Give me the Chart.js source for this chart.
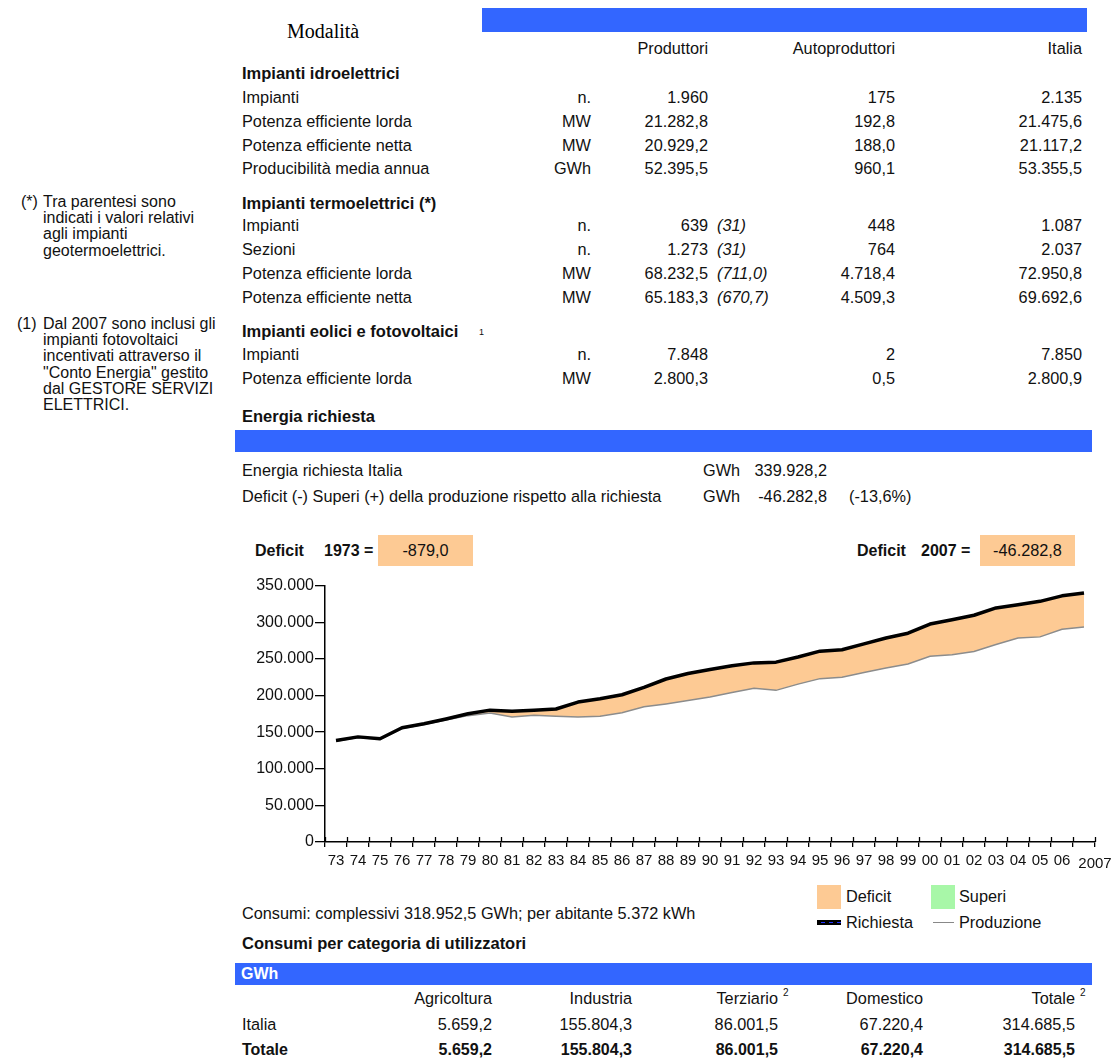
<!DOCTYPE html>
<html lang="it">
<head>
<meta charset="utf-8">
<title>Energia elettrica Italia 2007</title>
<script src="https://cdn.jsdelivr.net/npm/chart.js@4.4.1/dist/chart.umd.min.js"></script>
<style>
  body { margin: 0; background: #fff; }
  #page { position: relative; width: 1119px; height: 1062px; overflow: hidden;
          font-family: "Liberation Sans", Arial, sans-serif; font-size: 16.3px; color: #111; }
  .t { position: absolute; white-space: nowrap; line-height: 20px; }
  .b { font-weight: bold; font-size: 16.5px; }
  .bv { font-weight: bold; font-size: 16px; }
  .i { font-style: italic; }
  .bar { position: absolute; background: #3366ff; }
  .note { position: absolute; font-size: 16px; line-height: 16.2px; white-space: nowrap; }
  .sup { position: absolute; left: 100%; margin-left: 5px; top: -5px; font-size: 10px; }
  .box { position: absolute; background: #fdca94; text-align: center; line-height: 31px; }
  #chartBox { position: absolute; left: 230px; top: 575px; width: 885px; height: 300px; }
</style>
</head>
<body>
<div id="page">

  <div class="t" style="left:287px;top:21px;font-family:'Liberation Serif','Times New Roman',serif;font-size:20px;color:#000">Modalità</div>
  <div class="bar" style="left:482px;top:8px;width:605px;height:24px"></div>

  <div class="t" style="right:411px;top:38px">Produttori</div>
  <div class="t" style="right:224px;top:38px">Autoproduttori</div>
  <div class="t" style="right:37px;top:38px">Italia</div>

  <div class="t b" style="left:242px;top:63px">Impianti idroelettrici</div>
  <div class="t" style="left:242px;top:87px">Impianti</div>
  <div class="t" style="right:528px;top:87px">n.</div>
  <div class="t" style="right:411px;top:87px">1.960</div>
  <div class="t" style="right:224px;top:87px">175</div>
  <div class="t" style="right:37px;top:87px">2.135</div>
  <div class="t" style="left:242px;top:111px">Potenza efficiente lorda</div>
  <div class="t" style="right:528px;top:111px">MW</div>
  <div class="t" style="right:411px;top:111px">21.282,8</div>
  <div class="t" style="right:224px;top:111px">192,8</div>
  <div class="t" style="right:37px;top:111px">21.475,6</div>
  <div class="t" style="left:242px;top:135px">Potenza efficiente netta</div>
  <div class="t" style="right:528px;top:135px">MW</div>
  <div class="t" style="right:411px;top:135px">20.929,2</div>
  <div class="t" style="right:224px;top:135px">188,0</div>
  <div class="t" style="right:37px;top:135px">21.117,2</div>
  <div class="t" style="left:242px;top:158px">Producibilità media annua</div>
  <div class="t" style="right:528px;top:158px">GWh</div>
  <div class="t" style="right:411px;top:158px">52.395,5</div>
  <div class="t" style="right:224px;top:158px">960,1</div>
  <div class="t" style="right:37px;top:158px">53.355,5</div>

  <div class="t b" style="left:242px;top:193px">Impianti termoelettrici (*)</div>
  <div class="t" style="left:242px;top:215px">Impianti</div>
  <div class="t" style="right:528px;top:215px">n.</div>
  <div class="t" style="right:411px;top:215px">639</div>
  <div class="t i" style="left:717px;top:215px">(31)</div>
  <div class="t" style="right:224px;top:215px">448</div>
  <div class="t" style="right:37px;top:215px">1.087</div>
  <div class="t" style="left:242px;top:239px">Sezioni</div>
  <div class="t" style="right:528px;top:239px">n.</div>
  <div class="t" style="right:411px;top:239px">1.273</div>
  <div class="t i" style="left:717px;top:239px">(31)</div>
  <div class="t" style="right:224px;top:239px">764</div>
  <div class="t" style="right:37px;top:239px">2.037</div>
  <div class="t" style="left:242px;top:263px">Potenza efficiente lorda</div>
  <div class="t" style="right:528px;top:263px">MW</div>
  <div class="t" style="right:411px;top:263px">68.232,5</div>
  <div class="t i" style="left:717px;top:263px">(711,0)</div>
  <div class="t" style="right:224px;top:263px">4.718,4</div>
  <div class="t" style="right:37px;top:263px">72.950,8</div>
  <div class="t" style="left:242px;top:287px">Potenza efficiente netta</div>
  <div class="t" style="right:528px;top:287px">MW</div>
  <div class="t" style="right:411px;top:287px">65.183,3</div>
  <div class="t i" style="left:717px;top:287px">(670,7)</div>
  <div class="t" style="right:224px;top:287px">4.509,3</div>
  <div class="t" style="right:37px;top:287px">69.692,6</div>

  <div class="t b" style="left:242px;top:321px">Impianti eolici e fotovoltaici</div>
  <div class="t" style="left:479px;top:322px;font-size:9px">1</div>
  <div class="t" style="left:242px;top:344px">Impianti</div>
  <div class="t" style="right:528px;top:344px">n.</div>
  <div class="t" style="right:411px;top:344px">7.848</div>
  <div class="t" style="right:224px;top:344px">2</div>
  <div class="t" style="right:37px;top:344px">7.850</div>
  <div class="t" style="left:242px;top:368px">Potenza efficiente lorda</div>
  <div class="t" style="right:528px;top:368px">MW</div>
  <div class="t" style="right:411px;top:368px">2.800,3</div>
  <div class="t" style="right:224px;top:368px">0,5</div>
  <div class="t" style="right:37px;top:368px">2.800,9</div>

  <div class="t b" style="left:242px;top:406px">Energia richiesta</div>
  <div class="bar" style="left:235px;top:430px;width:857px;height:22px"></div>
  <div class="t" style="left:242px;top:460px">Energia richiesta Italia</div>
  <div class="t" style="left:703px;top:460px">GWh</div>
  <div class="t" style="right:292px;top:460px">339.928,2</div>
  <div class="t" style="left:242px;top:486px">Deficit (-) Superi (+) della produzione rispetto alla richiesta</div>
  <div class="t" style="left:703px;top:486px">GWh</div>
  <div class="t" style="right:292px;top:486px">-46.282,8</div>
  <div class="t" style="left:849px;top:486px">(-13,6%)</div>

  <div class="note" style="left:21px;top:194px">(*)</div>
  <div class="note" style="left:43px;top:194px">Tra parentesi sono<br>indicati i valori relativi<br>agli impianti<br>geotermoelettrici.</div>
  <div class="note" style="left:17px;top:316px">(1)</div>
  <div class="note" style="left:43px;top:316px">Dal 2007 sono inclusi gli<br>impianti fotovoltaici<br>incentivati attraverso il<br>"Conto Energia" gestito<br>dal GESTORE SERVIZI<br>ELETTRICI.</div>

  <div class="t bv" style="left:255px;top:541px">Deficit</div>
  <div class="t bv" style="left:324px;top:541px">1973 =</div>
  <div class="box" style="left:378px;top:535px;width:95px;height:31px">-879,0</div>
  <div class="t bv" style="left:857px;top:541px">Deficit</div>
  <div class="t bv" style="left:921px;top:541px">2007 =</div>
  <div class="box" style="left:980px;top:535px;width:95px;height:31px">-46.282,8</div>

  <div id="chartBox"><canvas id="deficitChart" width="885" height="300"></canvas></div>

  <div style="position:absolute;left:817px;top:885px;width:24px;height:24px;background:#fdca94"></div>
  <div class="t" style="left:846px;top:886px">Deficit</div>
  <div style="position:absolute;left:931px;top:885px;width:24px;height:24px;background:#a8f7a8"></div>
  <div class="t" style="left:959px;top:886px">Superi</div>
  <div style="position:absolute;left:817px;top:920px;width:24px;height:5px;background:#000">
    <div style="margin-top:2px;height:1px;background:repeating-linear-gradient(90deg,#000 0 4px,#2233ff 4px 8px)"></div>
  </div>
  <div class="t" style="left:846px;top:912px">Richiesta</div>
  <div style="position:absolute;left:933px;top:922px;width:21px;height:1px;background:#888"></div>
  <div class="t" style="left:959px;top:912px">Produzione</div>

  <div class="t" style="left:242px;top:903px">Consumi: complessivi 318.952,5 GWh; per abitante 5.372 kWh</div>
  <div class="t b" style="left:242px;top:933px">Consumi per categoria di utilizzatori</div>
  <div class="bar" style="left:235px;top:963px;width:857px;height:22px"></div>
  <div class="t bv" style="left:241px;top:964px;color:#fff">GWh</div>

  <div class="t" style="right:627px;top:988px">Agricoltura</div>
  <div class="t" style="right:487px;top:988px">Industria</div>
  <div class="t" style="right:341px;top:988px">Terziario<span class="sup">2</span></div>
  <div class="t" style="right:196px;top:988px">Domestico</div>
  <div class="t" style="right:44px;top:988px">Totale<span class="sup">2</span></div>

  <div class="t" style="left:242px;top:1014px">Italia</div>
  <div class="t" style="right:627px;top:1014px">5.659,2</div>
  <div class="t" style="right:487px;top:1014px">155.804,3</div>
  <div class="t" style="right:341px;top:1014px">86.001,5</div>
  <div class="t" style="right:196px;top:1014px">67.220,4</div>
  <div class="t" style="right:44px;top:1014px">314.685,5</div>

  <div class="t bv" style="left:242px;top:1040px">Totale</div>
  <div class="t bv" style="right:627px;top:1040px">5.659,2</div>
  <div class="t bv" style="right:487px;top:1040px">155.804,3</div>
  <div class="t bv" style="right:341px;top:1040px">86.001,5</div>
  <div class="t bv" style="right:196px;top:1040px">67.220,4</div>
  <div class="t bv" style="right:44px;top:1040px">314.685,5</div>
</div>

<script>
// anni 1973-2007, GWh
const years = ['73','74','75','76','77','78','79','80','81','82','83','84','85','86','87','88','89',
               '90','91','92','93','94','95','96','97','98','99','00','01','02','03','04','05','06','2007'];

const richiesta = [138500, 143500, 141000, 156000, 161500, 168000, 175000, 180000, 178500, 180000,
                   181500, 191000, 195500, 201000, 211000, 222500, 230000, 235500, 240500, 244500,
                   245500, 252500, 260500, 262500, 270500, 278500, 285000, 297500, 303500, 309500,
                   319500, 324000, 328500, 336000, 339928];

const produzione = [137600, 142700, 140300, 155000, 160500, 166500, 172500, 176000, 170500, 173000,
                    171800, 170500, 171500, 176500, 184500, 188500, 193000, 198000, 204000, 210000,
                    207000, 215500, 223000, 225000, 231500, 237500, 243000, 253500, 255500, 260000,
                    269500, 278500, 280000, 290500, 293645];

const yTicks = [0, 50000, 100000, 150000, 200000, 250000, 300000, 350000];

const deficitColor = '#fdca94';
const superiColor = '#a8f7a8';

function fmt(v) {
    return String(v).replace(/\B(?=(\d{3})+(?!\d))/g, '.');
}

// tacche che attraversano l'asse x e ultima etichetta sulla tacca finale
const axisTicks = {
    id: 'axisTicks',
    afterDraw(chart) {
        const xs = chart.scales.x;
        const ctx = chart.ctx;
        const step = xs.getPixelForValue(1) - xs.getPixelForValue(0);
        const first = xs.getPixelForValue(0) - step / 2;
        ctx.save();
        ctx.strokeStyle = '#000';
        ctx.lineWidth = 1.3;
        for (let i = 0; i <= years.length; i++) {
            const px = Math.round(first + i * step) + 0.5;
            ctx.beginPath();
            ctx.moveTo(px, xs.top - 5);
            ctx.lineTo(px, xs.top);
            ctx.stroke();
        }
        ctx.font = '15px "Liberation Sans", Arial, sans-serif';
        ctx.fillStyle = '#111';
        ctx.textAlign = 'center';
        ctx.textBaseline = 'top';
        ctx.fillText(years[years.length - 1], xs.right, xs.top + 14);
        ctx.restore();
    }
};

Chart.defaults.font.family = '"Liberation Sans", Arial, sans-serif';
Chart.defaults.color = '#111';

new Chart(document.getElementById('deficitChart'), {
    type: 'line',
    data: {
        labels: years,
        datasets: [
            {
                label: 'Produzione',
                data: produzione,
                borderColor: '#8c8c8c',
                borderWidth: 1.5,
                pointRadius: 0,
                tension: 0,
                fill: false,
                order: 1
            },
            {
                label: 'Richiesta',
                data: richiesta,
                borderColor: '#000',
                borderWidth: 3.5,
                pointRadius: 0,
                tension: 0,
                borderJoinStyle: 'round',
                fill: { target: 0, above: deficitColor, below: superiColor },
                order: 0
            }
        ]
    },
    options: {
        responsive: false,
        animation: false,
        devicePixelRatio: 1,
        layout: { padding: { top: 8, right: 20, left: 0, bottom: 0 } },
        plugins: {
            legend: { display: false },
            tooltip: { enabled: false },
            filler: { drawTime: 'beforeDatasetsDraw' }
        },
        scales: {
            x: {
                type: 'category',
                offset: true,
                grid: { offset: true, drawOnChartArea: false, color: '#000', lineWidth: 1.3, tickLength: 5 },
                border: { color: '#000', width: 1.5 },
                ticks: {
                    autoSkip: false,
                    maxRotation: 0,
                    padding: 5,
                    font: { size: 15 },
                    callback: (v, i) => (i === years.length - 1 ? '' : years[i])
                },
                afterFit: (s) => { s.height = 33; }
            },
            y: {
                min: 0,
                max: 350000,
                afterBuildTicks: (s) => { s.ticks = yTicks.map(v => ({ value: v })); },
                grid: { drawOnChartArea: false, color: '#000', lineWidth: 1.3, tickLength: 10 },
                border: { color: '#000', width: 1.5 },
                ticks: { padding: 1, font: { size: 16 }, callback: (v) => fmt(v) },
                afterFit: (s) => { s.width = 95; }
            }
        }
    },
    plugins: [axisTicks]
});
</script>
</body>
</html>
